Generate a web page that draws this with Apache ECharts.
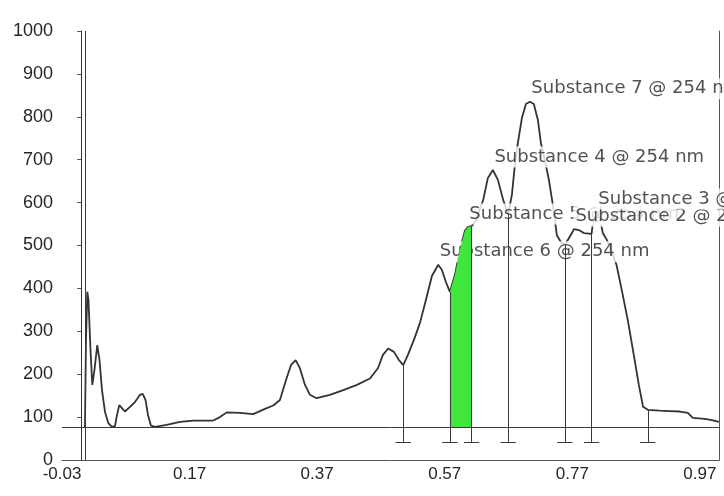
<!DOCTYPE html>
<html>
<head>
<meta charset="utf-8">
<script src="https://cdn.jsdelivr.net/npm/echarts@6/dist/echarts.min.js"></script>
<style>
html, body { margin: 0; padding: 0; background: #fff; }
#chart { width: 724px; height: 496px; }
</style>
</head>
<body>
<div id="chart"></div>
<script>
// chromatogram trace (retention time, signal)
var traceX = [0.006, 0.0076, 0.0097, 0.0115, 0.0147, 0.0175, 0.0209, 0.0253, 0.0288, 0.0327,
  0.0374, 0.0426, 0.0484, 0.0531, 0.0562, 0.0598, 0.064, 0.0687, 0.0766, 0.0844,
  0.0923, 0.0965, 0.1009, 0.1048, 0.1095, 0.1158, 0.1341, 0.155, 0.1758, 0.2071,
  0.2176, 0.2282, 0.2491, 0.2698, 0.2882, 0.3012, 0.3117, 0.3211, 0.3289, 0.3363,
  0.343, 0.3509, 0.3587, 0.3692, 0.39, 0.4109, 0.4324, 0.4528, 0.4653, 0.4731,
  0.4814, 0.4904, 0.4982, 0.505, 0.5123, 0.5217, 0.5311, 0.5405, 0.5499, 0.5598,
  0.5656, 0.5718, 0.5781, 0.586, 0.5938, 0.6016, 0.6063, 0.6121, 0.6188, 0.6303,
  0.6376, 0.6455, 0.6534, 0.6617, 0.6695, 0.6753, 0.68, 0.6847, 0.691, 0.6973,
  0.7035, 0.7097, 0.716, 0.7208, 0.727, 0.7333, 0.7396, 0.7458, 0.7521, 0.7583,
  0.7646, 0.7694, 0.7725, 0.7803, 0.7881, 0.8002, 0.8038, 0.8085, 0.8132, 0.8179,
  0.8241, 0.8304, 0.8393, 0.8476, 0.857, 0.8664, 0.8743, 0.881, 0.8883, 0.9071,
  0.923, 0.9386, 0.9512, 0.959, 0.9778, 0.9888, 0.9998];
var traceY = [76, 280, 392, 373, 256, 175, 210, 268, 233, 163,
  112, 86, 77, 79, 105, 128, 121, 113, 124, 135,
  152, 154, 140, 105, 80, 77, 82, 89, 92, 92,
  100, 111, 110, 107, 119, 127, 140, 186, 221, 233,
  214, 175, 152, 144, 152, 163, 175, 190, 214, 245,
  260, 252, 233, 221, 245, 280, 319, 373, 429, 455,
  443, 415, 392, 431, 490, 534, 543, 545, 559, 606,
  657, 676, 653, 606, 573, 618, 688, 739, 797, 830,
  835, 830, 793, 739, 699, 653, 594, 524, 508, 501,
  517, 529, 538, 536, 529, 527, 571, 578, 564, 529,
  513, 490, 455, 396, 326, 245, 175, 124, 117, 115,
  114, 113, 110, 98, 96, 93, 89];

// peak annotations
var peakNames = ['Substance 7 @ 254 nm', 'Substance 4 @ 254 nm', 'Substance 5 @ 254 nm',
  'Substance 6 @ 254 nm', 'Substance 2 @ 254 nm', 'Substance 3 @ 254 nm'];
var peakX = [0.7035, 0.6455, 0.6063, 0.5598, 0.7725, 0.8085];
var peakY = [835, 676, 543, 455, 538, 578];

// integration drop lines, baseline, injection marker
var dropX = [0.505, 0.5781, 0.6121, 0.6695, 0.7583, 0.8002, 0.8883];
var dropFoot = 42;
var baseline = 76;
var injectionX = 0.006;
var shadeFrom = 0.5781, shadeTo = 0.6121;

var xTicks = { min: -0.03, max: 1.0, step: 0.2 };
var yTicks = { min: 0, max: 1000, step: 100 };

var trace = traceX.map(function (x, i) { return [x, traceY[i]]; });
var shade = trace.filter(function (p) { return p[0] >= shadeFrom && p[0] <= shadeTo; });
var labels = peakX.map(function (x, i) { return { value: [x, peakY[i]], name: peakNames[i] }; });

function valueAt(x) {
  var i = traceX.indexOf(x);
  return traceY[i];
}

var markData = [];
dropX.forEach(function (x) {
  markData.push([{ coord: [x, valueAt(x)] }, { coord: [x, dropFoot] }]);
  markData.push([{ coord: [x - 0.012, dropFoot] }, { coord: [x + 0.012, dropFoot] }]);
});
markData.push([{ coord: [injectionX, 0] }, { coord: [injectionX, 1000] }]);
markData.push([{ coord: [xTicks.min, baseline] }, { coord: [xTicks.max, baseline] }]);

var axisFont = '"Liberation Sans", Arial, sans-serif';
var noteFont = '"DejaVu Sans", sans-serif';
var ink = '#262626';

var chart = echarts.init(document.getElementById('chart'));
chart.setOption({
  animation: false,
  backgroundColor: '#fff',
  grid: { left: 62, right: 5, top: 31, bottom: 36, outerBoundsMode: 'none' },
  xAxis: {
    type: 'value',
    min: xTicks.min,
    max: xTicks.max,
    interval: xTicks.step,
    axisLine: { show: true, lineStyle: { color: '#555', width: 1 } },
    axisTick: { show: false },
    splitLine: { show: false },
    axisLabel: {
      showMaxLabel: false,
      color: ink,
      fontSize: 17,
      fontFamily: axisFont,
      margin: 6,
      formatter: function (v) { return v.toFixed(2); }
    }
  },
  yAxis: [{
    type: 'value',
    min: yTicks.min,
    max: yTicks.max,
    interval: yTicks.step,
    axisLine: { show: true, lineStyle: { color: '#333', width: 1 } },
    axisTick: { show: true, length: 4, lineStyle: { color: '#555' } },
    splitLine: { show: false },
    axisLabel: {
      color: ink,
      fontSize: 18,
      fontFamily: axisFont,
      margin: 9,
      formatter: function (v) { return String(v); }
    }
  }, {
    type: 'value',
    position: 'right',
    min: yTicks.min,
    max: yTicks.max,
    axisLine: { show: true, lineStyle: { color: '#555', width: 1 } },
    axisTick: { show: false },
    axisLabel: { show: false },
    splitLine: { show: false }
  }],
  series: [{
    type: 'line',
    z: 2,
    data: trace,
    showSymbol: false,
    silent: true,
    lineStyle: { color: '#333', width: 1.8 }
  }, {
    type: 'scatter',
    z: 3,
    data: labels,
    symbolSize: 1,
    silent: true,
    itemStyle: { color: 'rgba(0,0,0,0)' },
    label: {
      show: true,
      position: 'right',
      distance: 0,
      offset: [-1, -13],
      formatter: function (p) { return p.name; },
      color: ink,
      fontSize: 18,
      fontFamily: noteFont,
      backgroundColor: '#fff',
      padding: [2, 2, 1, 2]
    }
  }, {
    type: 'line',
    z: 4,
    data: shade,
    showSymbol: false,
    silent: true,
    lineStyle: { width: 0 },
    areaStyle: { color: '#3ee63e', opacity: 1, origin: baseline },
    markLine: {
      z: 5,
      silent: true,
      symbol: ['none', 'none'],
      label: { show: false },
      lineStyle: { color: '#3a3a3a', width: 1, type: 'solid' },
      data: markData
    }
  }]
});
</script>
</body>
</html>
